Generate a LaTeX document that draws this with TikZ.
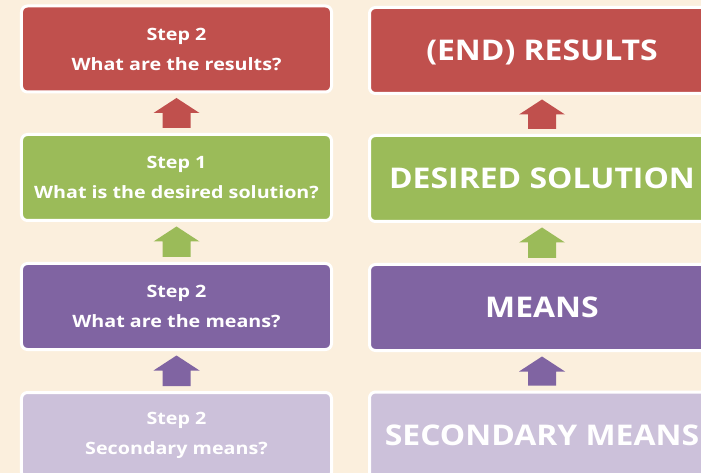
\documentclass[tikz,border=0pt]{standalone}
\usepackage{fontspec}
\setmainfont{Open Sans}
\newfontfamily\askfont[FakeStretch=1.16]{Open Sans}
\newfontfamily\phasefont[FakeStretch=1.12]{Open Sans}
\usetikzlibrary{arrows.meta}
\definecolor{paper}{HTML}{FBEFDD}
\definecolor{redc}{HTML}{C0504D}
\definecolor{greenc}{HTML}{9BBB59}
\definecolor{purplec}{HTML}{8064A2}
\definecolor{lilacc}{HTML}{CCC1DA}
\tikzset{
  stage/.style={draw=white, line width=3bp, rounded corners=6bp, text=white,
    minimum height=86bp, inner sep=0pt},
  question/.style={stage, minimum width=310bp, align=center,
    font=\askfont\fontsize{17bp}{30bp}\selectfont\bfseries},
  phase/.style={stage, minimum width=345bp,
    font=\phasefont\fontsize{28.5bp}{34bp}\selectfont\bfseries,
    text height=20.4bp, text depth=0pt},
}
% block arrow from the top of node #1 to the bottom of node #2
\newcommand\blockarrow[3]{%
  \fill[#3]
    ([xshift=-14bp,yshift=5bp]#1.north) --
    ([xshift=14bp,yshift=5bp]#1.north) --
    ([xshift=14bp,yshift=-19.5bp]#2.south) --
    ([xshift=23bp,yshift=-19.5bp]#2.south) --
    ([yshift=-4.5bp]#2.south) --
    ([xshift=-23bp,yshift=-19.5bp]#2.south) --
    ([xshift=-14bp,yshift=-19.5bp]#2.south) -- cycle;}
\begin{document}
\begin{tikzpicture}[x=1bp,y=-1bp]
  \useasboundingbox (0,0) rectangle (701,473);
  \clip (0,0) rectangle (701,473);
  \fill[paper] (0,0) rectangle (701,473);

  % question column
  \node[question, fill=redc]    (q4) at (176.5,49)    {Step 2\\What are the results?};
  \node[question, fill=greenc]  (q3) at (176.5,177.5) {Step 1\\What is the desired solution?};
  \node[question, fill=purplec] (q2) at (176.5,306.5) {Step 2\\What are the means?};
  \node[question, fill=lilacc]  (q1) at (176.5,435.5) {Step 2\\Secondary means?};

  % phase column
  \node[phase, fill=redc]    (p4) at (542,50.5)  {(END) RESULTS};
  \node[phase, fill=greenc]  (p3) at (542,178.5) {DESIRED SOLUTION};
  \node[phase, fill=purplec] (p2) at (542,307.5) {MEANS};
  \node[phase, fill=lilacc]  (p1) at (542,435)   {SECONDARY MEANS};

  % block arrows between stages
  \blockarrow{q3}{q4}{redc}
  \blockarrow{q2}{q3}{greenc}
  \blockarrow{q1}{q2}{purplec}
  \blockarrow{p3}{p4}{redc}
  \blockarrow{p2}{p3}{greenc}
  \blockarrow{p1}{p2}{purplec}
\end{tikzpicture}
\end{document}
